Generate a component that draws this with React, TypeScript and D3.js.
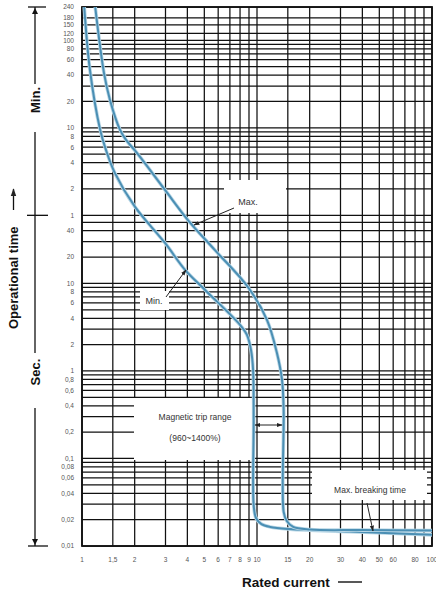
import * as React from "react";
import * as d3 from "d3";

// rated current multiples (x) and operational time in seconds (y)
const minCurveI = [1.03, 1.11, 1.27, 1.37, 1.54, 2.01, 2.98, 3.88, 5.05, 8.0, 8.76, 9.24, 9.5, 9.57, 9.57, 9.87, 10.6, 11.9, 15.4, 34, 100];
const minCurveT = [14400, 2750, 568, 336, 183, 74.8, 29, 14.3, 8.43, 3.36, 2.58, 1.74, 1.03, 0.275, 0.0294, 0.0209, 0.0178, 0.0165, 0.0156, 0.0146, 0.0134];
const maxCurveI = [1.19, 1.335, 1.445, 1.65, 1.785, 2.06, 2.98, 4.03, 5.75, 8.87, 11.4, 13.0, 13.9, 14.2, 14.2, 14.8, 16.1, 20.1, 40, 100];
const maxCurveT = [14400, 2550, 1250, 568, 436, 310, 117, 53, 24, 9.1, 3.83, 1.6, 0.79, 0.36, 0.0245, 0.0193, 0.0165, 0.0154, 0.0152, 0.015];

// grid and tick values
const xGrid = [1, 1.5, 2, 3, 4, 5, 6, 7, 8, 9, 10, 15, 20, 30, 40, 50, 60, 70, 80, 90, 100];
const xTicks = [1, 1.5, 2, 3, 4, 5, 6, 7, 8, 9, 10, 15, 20, 30, 40, 50, 60, 80, 100];
const minuteGrid = [240, 180, 150, 120, 100, 90, 80, 70, 60, 50, 40, 30, 20, 10, 9, 8, 7, 6, 5, 4, 3, 2, 1];
const minuteTicks = [240, 180, 150, 120, 100, 80, 60, 40, 20, 10, 8, 6, 4, 2, 1];
const secondGrid = [50, 40, 30, 20, 10, 9, 8, 7, 6, 5, 4, 3, 2, 1, 0.9, 0.8, 0.7, 0.6, 0.5, 0.4, 0.3, 0.2, 0.1,
  0.09, 0.08, 0.07, 0.06, 0.05, 0.04, 0.03, 0.02, 0.01];
const secondTicks = [40, 20, 10, 8, 6, 4, 2, 1, 0.8, 0.6, 0.4, 0.2, 0.1, 0.08, 0.06, 0.04, 0.02, 0.01];

const W = 436;
const H = 593;
const L = 82, R = 432, T = 7, B = 546;
const FONT = "Liberation Sans, Arial, sans-serif";
const BLUE = "#4b8fb4";

const fmt = (v: number) => String(v).replace(".", ",");

function drawChart(svgRef: React.RefObject<SVGSVGElement>) {
  const svg = d3.select(svgRef.current);
  svg.selectAll("*").remove();
  svg.attr("width", W).attr("height", H).style("background", "#fff");

  const x = d3.scaleLog().domain([1, 100]).range([L, R]);
  const y = d3.scaleLog().domain([0.01, 14400]).range([B, T]);

  const defs = svg.append("defs");
  defs.append("clipPath").attr("id", "plot")
    .append("rect").attr("x", L).attr("y", T).attr("width", R - L).attr("height", B - T);
  defs.append("marker").attr("id", "arr").attr("viewBox", "0 0 10 10")
    .attr("refX", 9).attr("refY", 5).attr("markerWidth", 6).attr("markerHeight", 6)
    .attr("orient", "auto-start-reverse")
    .append("path").attr("d", "M0,1.5 L10,5 L0,8.5 z").attr("fill", "#222");

  // grid
  const grid = svg.append("g").attr("stroke", "#111").attr("stroke-width", 1.25);
  grid.selectAll(".vx").data(xGrid).join("line")
    .attr("x1", (d) => x(d)).attr("x2", (d) => x(d)).attr("y1", T).attr("y2", B);
  const yGrid = [...minuteGrid.map((m) => m * 60), ...secondGrid];
  grid.selectAll(".hy").data(yGrid).join("line")
    .attr("x1", L).attr("x2", R).attr("y1", (d) => y(d)).attr("y2", (d) => y(d));
  svg.append("rect").attr("x", L).attr("y", T).attr("width", R - L).attr("height", B - T)
    .attr("fill", "none").attr("stroke", "#111").attr("stroke-width", 1.8);

  // y tick labels
  const lab = svg.append("g").attr("font-family", FONT).attr("font-size", 6.5).attr("fill", "#555")
    .attr("text-anchor", "end");
  lab.selectAll(".tm").data(minuteTicks).join("text")
    .attr("x", 74).attr("y", (d) => y(d * 60) + 2.3).text((d) => fmt(d));
  lab.selectAll(".ts").data(secondTicks).join("text")
    .attr("x", 74).attr("y", (d) => y(d) + 2.3).text((d) => fmt(d));

  // x tick labels
  svg.append("g").attr("font-family", FONT).attr("font-size", 6.5).attr("fill", "#555")
    .attr("text-anchor", "middle")
    .selectAll("text").data(xTicks).join("text")
    .attr("x", (d) => x(d)).attr("y", 562).text((d) => fmt(d));

  // annotation boxes (white patches over the grid)
  const boxes = [
    [224, 180, 62, 33],
    [140, 291, 29, 19],
    [134, 398, 119, 62],
    [312, 470, 115, 30],
  ];
  svg.append("g").selectAll("rect").data(boxes).join("rect")
    .attr("x", (d) => d[0]).attr("y", (d) => d[1]).attr("width", (d) => d[2]).attr("height", (d) => d[3])
    .attr("fill", "#fff");

  // curves
  const line = d3.line<[number, number]>()
    .x((d) => x(d[0])).y((d) => y(d[1]))
    .curve(d3.curveCatmullRom.alpha(0.5));
  const minPts = minCurveI.map((v, i) => [v, minCurveT[i]] as [number, number]);
  const maxPts = maxCurveI.map((v, i) => [v, maxCurveT[i]] as [number, number]);
  const cg = svg.append("g").attr("clip-path", "url(#plot)").attr("fill", "none");
  [minPts, maxPts].forEach((pts) => {
    cg.append("path").attr("d", line(pts)).attr("stroke", "#b9d7e6").attr("stroke-width", 3.6);
    cg.append("path").attr("d", line(pts)).attr("stroke", BLUE).attr("stroke-width", 2);
  });

  // annotations
  const ann = svg.append("g").attr("font-family", FONT).attr("fill", "#333");
  ann.append("text").attr("x", 248).attr("y", 205).attr("font-size", 9).attr("text-anchor", "middle").text("Max.");
  ann.append("text").attr("x", 154).attr("y", 304).attr("font-size", 9).attr("text-anchor", "middle").text("Min.");
  ann.append("text").attr("x", 195).attr("y", 420).attr("font-size", 8.5).attr("text-anchor", "middle").text("Magnetic trip range");
  ann.append("text").attr("x", 195).attr("y", 441).attr("font-size", 8.5).attr("text-anchor", "middle").text("(960~1400%)");
  ann.append("text").attr("x", 370).attr("y", 493).attr("font-size", 8.5).attr("text-anchor", "middle").text("Max. breaking time");

  const leaders = [
    [234, 208, 194, 225],
    [166, 297, 186, 270],
    [367, 503, 373, 531],
  ];
  svg.append("g").attr("stroke", "#222").attr("stroke-width", 1)
    .selectAll("line").data(leaders).join("line")
    .attr("x1", (d) => d[0]).attr("y1", (d) => d[1]).attr("x2", (d) => d[2]).attr("y2", (d) => d[3])
    .attr("marker-end", "url(#arr)");
  svg.append("line").attr("x1", x(9.75)).attr("x2", x(13.9)).attr("y1", 425).attr("y2", 425)
    .attr("stroke", "#222").attr("stroke-width", 1)
    .attr("marker-start", "url(#arr)").attr("marker-end", "url(#arr)");

  // left side: Min. / Sec. brackets
  const side = svg.append("g").attr("stroke", "#111").attr("stroke-width", 1.3);
  [[T, 84], [132, 353], [408, B]].forEach(([a, b]) => {
    side.append("line").attr("x1", 35).attr("x2", 35).attr("y1", a).attr("y2", b);
  });
  side.append("line").attr("x1", 28).attr("x2", 46).attr("y1", T).attr("y2", T);
  side.append("line").attr("x1", 27).attr("x2", 48).attr("y1", y(60)).attr("y2", y(60));
  side.append("line").attr("x1", 28).attr("x2", 48).attr("y1", B).attr("y2", B);
  svg.append("path").attr("d", `M32,${T + 7} L35,${T + 1} L38,${T + 7} z`).attr("fill", "#111");
  svg.append("path").attr("d", `M32,${B - 7} L35,${B - 1} L38,${B - 7} z`).attr("fill", "#111");

  const bold = svg.append("g").attr("font-family", FONT).attr("font-weight", "bold").attr("fill", "#111")
    .attr("font-size", 13);
  bold.append("text").attr("transform", "translate(40,100) rotate(-90)").attr("text-anchor", "middle").text("Min.");
  bold.append("text").attr("transform", "translate(40,372) rotate(-90)").attr("text-anchor", "middle").text("Sec.");
  bold.append("text").attr("transform", "translate(18,329) rotate(-90)").attr("text-anchor", "start")
    .text("Operational time");
  svg.append("line").attr("x1", 13.5).attr("x2", 13.5).attr("y1", 210).attr("y2", 189)
    .attr("stroke", "#111").attr("stroke-width", 1.3).attr("marker-end", "url(#arr)");

  bold.append("text").attr("x", 242).attr("y", 587).attr("font-size", 13.5).text("Rated current");
  svg.append("line").attr("x1", 338).attr("x2", 362).attr("y1", 582).attr("y2", 582)
    .attr("stroke", "#111").attr("stroke-width", 1.4);
}

const App: React.FunctionComponent = () => {
  const svg = React.useRef<SVGSVGElement>(null);
  React.useEffect(() => {
    drawChart(svg);
  }, [svg]);

  return (
    <div style={{ position: "absolute", left: 0, top: 0 }}>
      <svg ref={svg} style={{ display: "block" }} />
    </div>
  );
};

export default App;
